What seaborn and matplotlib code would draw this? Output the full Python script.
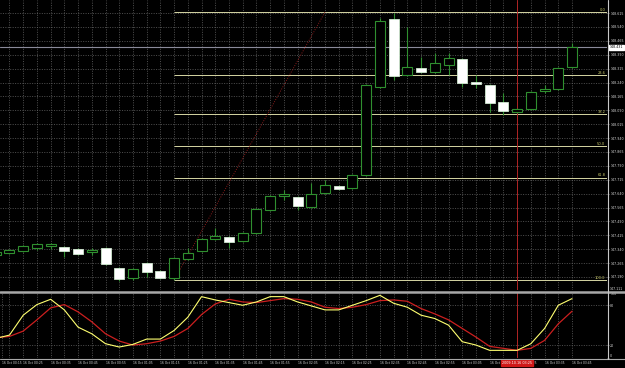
import numpy as np
import pandas as pd
import matplotlib
matplotlib.use("Agg")
import matplotlib.pyplot as plt
import matplotlib.transforms as mtransforms
from matplotlib.lines import Line2D
import seaborn as sns

# ---------------- data ----------------
opens = [147.309, 147.320, 147.330, 147.347, 147.360, 147.352, 147.341, 147.325, 147.347, 147.239,
         147.185, 147.266, 147.222, 147.185, 147.287, 147.330, 147.395, 147.406, 147.384, 147.428,
         147.552, 147.627, 147.622, 147.568, 147.644, 147.681, 147.671, 147.741, 148.216, 148.583,
         148.281, 148.319, 148.297, 148.335, 148.367, 148.243, 148.227, 148.135, 148.081, 148.097,
         148.197, 148.205, 148.324]
highs = [147.330, 147.341, 147.363, 147.374, 147.374, 147.357, 147.347, 147.347, 147.352, 147.244,
         147.239, 147.271, 147.228, 147.298, 147.347, 147.401, 147.455, 147.411, 147.433, 147.563,
         147.633, 147.660, 147.627, 147.698, 147.714, 147.687, 147.746, 148.232, 148.589, 148.616,
         148.540, 148.378, 148.400, 148.400, 148.373, 148.281, 148.232, 148.184, 148.103, 148.194,
         148.227, 148.324, 148.454]
lows = [147.303, 147.314, 147.325, 147.336, 147.341, 147.298, 147.309, 147.309, 147.255, 147.168,
        147.174, 147.190, 147.179, 147.174, 147.282, 147.325, 147.390, 147.347, 147.379, 147.422,
        147.546, 147.606, 147.552, 147.563, 147.638, 147.660, 147.665, 147.735, 148.211, 148.254,
        148.275, 148.292, 148.292, 148.281, 148.216, 148.211, 148.081, 148.065, 148.076, 148.092,
        148.184, 148.200, 148.319]
closes = [147.325, 147.336, 147.357, 147.368, 147.366, 147.330, 147.314, 147.336, 147.260, 147.179,
          147.233, 147.217, 147.185, 147.293, 147.320, 147.395, 147.411, 147.379, 147.428, 147.557,
          147.627, 147.638, 147.573, 147.638, 147.687, 147.665, 147.741, 148.227, 148.572, 148.275,
          148.324, 148.297, 148.346, 148.373, 148.238, 148.232, 148.130, 148.086, 148.097, 148.189,
          148.203, 148.319, 148.431]

stoch_main = [30, 35, 65, 81, 89, 73, 47, 37, 22, 17,
              21, 29, 29, 42, 62, 93, 88, 84, 80, 85,
              93, 93, 85, 79, 73, 73, 80, 87, 95, 83,
              77, 65, 60, 50, 25, 20, 12, 12, 12, 22,
              45, 80, 90]
stoch_signal = [31, 33, 41, 58, 76, 81, 70, 55, 37, 26,
                20, 22, 26, 33, 45, 66, 82, 89, 85, 84,
                87, 90, 89, 85, 77, 75, 77, 81, 87, 88,
                86, 75, 67, 58, 45, 32, 18, 15, 12, 15,
                27, 52, 71]

time_labels = ["16 Oct 00:15", "16 Oct 00:25", "16 Oct 00:35", "16 Oct 00:45", "16 Oct 00:55",
               "16 Oct 01:05", "16 Oct 01:15", "16 Oct 01:25", "16 Oct 01:35", "16 Oct 01:45",
               "16 Oct 01:55", "16 Oct 02:05", "16 Oct 02:15", "16 Oct 02:25", "16 Oct 02:35",
               "16 Oct 02:45", "16 Oct 02:55", "16 Oct 03:05", "16 Oct 03:15", "16 Oct 03:25",
               "16 Oct 03:35", "16 Oct 03:45"]
price_ticks = [147.190, 147.265, 147.340, 147.415, 147.490, 147.565, 147.640, 147.715, 147.790,
               147.865, 147.940, 148.015, 148.090, 148.165, 148.240, 148.315, 148.390, 148.465,
               148.540, 148.615]
fib_levels = [0.0, 23.6, 38.2, 50.0, 61.8, 100.0]
fib_high = 148.621
fib_low = 147.174
fib_start = 13          # candle index where the fibo object starts
fib_end = 24
current_price = 148.431
marked_candle = 38
marked_label = "2009.10.16 03:25"
stoch_levels = [80, 20]

# ---------------- style ----------------
sns.set_theme(style="dark", rc={"axes.facecolor": "black", "figure.facecolor": "black"})
plt.rcParams["font.family"] = ["DejaVu Sans"]

GREEN = "#2f8f2f"
GRID = "#6a6a6a"
FIB = "#d6d6a4"
FIBTXT = "#c8c86a"
TXT = "#d8d8d8"
LBL = 2.3

n = len(opens)
idx = np.arange(n)
df = pd.DataFrame({"i": idx, "open": opens, "high": highs, "low": lows, "close": closes,
                   "main": stoch_main, "signal": stoch_signal})

W, H = 625, 368
fig = plt.figure(figsize=(W / 100, H / 100), dpi=100)
fig.patch.set_facecolor("black")

ax = fig.add_axes([0, (H - 290) / H, 607 / W, 290 / H])
ax2 = fig.add_axes([0, (H - 358.3) / H, 607 / W, 66.3 / H])

xlim = (0.31, 44.55)
for a in (ax, ax2):
    a.set_facecolor("black")
    a.set_xlim(*xlim)
    for s in a.spines.values():
        s.set_visible(False)

ax.set_ylim(147.1198, 148.6858)
ax2.set_ylim(0, 100)

# grids
grid_kw = dict(color=GRID, linewidth=0.5, linestyle=(0, (1.5, 2.0)))
ax.set_xticks(idx[1:])
ax.set_xticklabels([])
ax.tick_params(axis="x", length=0)
ax.set_yticks(price_ticks)
ax.set_yticklabels([f"{p:.3f}" for p in price_ticks])
ax.grid(True, **grid_kw)
ax.yaxis.tick_right()
ax.tick_params(axis="y", length=1.5, width=0.5, color="#a0a0a0", pad=0.8, labelsize=LBL,
               labelcolor=TXT, right=True, left=False)

# fibonacci
bt = mtransforms.blended_transform_factory(ax.transAxes, ax.transData)
for lv in fib_levels:
    price = fib_high - (fib_high - fib_low) * lv / 100.0
    ax.hlines(price, fib_start, xlim[1], color=FIB, linewidth=0.7, zorder=2)
    ax.text(0.997, price + 0.002, f"{lv:.1f}", transform=bt, ha="right", va="bottom",
            color=FIBTXT, fontsize=2.6, zorder=6)
ax.plot([fib_start, fib_end], [fib_low, fib_high], color="#8b1c1c", linewidth=0.7,
        linestyle=(0, (1.0, 1.5)), zorder=2)

# current price line
ax.axhline(current_price, color="#8a8a9a", linewidth=0.8, zorder=1.5)

# candles
bull = df["close"] >= df["open"]
ax.vlines(df["i"], df["low"], df["high"], color=GREEN, linewidth=0.8, zorder=3)
bodies_bottom = np.minimum(df["open"], df["close"])
bodies_h = np.maximum(np.abs(df["close"] - df["open"]), 0.0012)
ax.bar(df["i"][bull], bodies_h[bull], bottom=bodies_bottom[bull], width=0.73,
       color="black", edgecolor=GREEN, linewidth=0.8, zorder=4)
ax.bar(df["i"][~bull], bodies_h[~bull], bottom=bodies_bottom[~bull], width=0.73,
       color="white", edgecolor="#cfe8cf", linewidth=0.6, zorder=4)

# marked vertical line
ax.axvline(marked_candle, color="#b02424", linewidth=0.7, zorder=2.5)
ax2.axvline(marked_candle, color="#b02424", linewidth=0.7, zorder=2.5)

# price labels extra
ax.text(1.004, current_price, f"{current_price:.3f}", transform=bt, ha="left", va="center",
        fontsize=LBL, color="black", clip_on=False, zorder=10,
        bbox=dict(boxstyle="square,pad=0.2", facecolor="white", edgecolor="white"))
ax.text(1.004, 147.125, "147.111", transform=bt, ha="left", va="center",
        fontsize=LBL, color=TXT, clip_on=False)

# ---------------- stochastic ----------------
sns.lineplot(data=df, x="i", y="signal", ax=ax2, color="#cc1f1f", linewidth=0.9, zorder=4)
sns.lineplot(data=df, x="i", y="main", ax=ax2, color="#ffff70", linewidth=0.8, zorder=5)
for lv in stoch_levels:
    ax2.axhline(lv, **grid_kw)
ax2.set_xlabel("")
ax2.set_ylabel("")

tick_pos = [max(float(i), 0.45) for i in range(0, n, 2)]
ax2.set_xticks(tick_pos)
ax2.set_xticklabels(time_labels, fontsize=2.2, color=TXT, ha="left")
ax2.set_xticks(idx[1:], minor=True)
ax2.tick_params(axis="x", which="major", length=1.5, width=0.4, color="#a0a0a0", pad=0.6)
ax2.tick_params(axis="x", which="minor", length=0)
ax2.grid(True, axis="x", which="both", **grid_kw)
ax2.yaxis.tick_right()
ax2.set_yticks([100, 80, 20, 0])
ax2.set_yticklabels(["100", "80", "20", "0"])
ax2.tick_params(axis="y", length=1.5, width=0.5, color="#a0a0a0", pad=0.8, labelsize=LBL,
                labelcolor=TXT, right=True, left=False)
for lab in ax2.get_yticklabels():
    if lab.get_text() == "100":
        lab.set_va("top")
    elif lab.get_text() == "0":
        lab.set_va("bottom")

bt2 = mtransforms.blended_transform_factory(ax2.transData, fig.transFigure)
ax2.text(marked_candle, 1 - 362.5 / H, marked_label, transform=bt2, ha="center", va="center",
         fontsize=2.4, color="white", zorder=12, clip_on=False,
         bbox=dict(boxstyle="square,pad=0.3", facecolor="#d01818", edgecolor="#d01818"))

# frame lines (figure pixel coordinates)
def fy(y):
    return 1 - y / H

fig.add_artist(Line2D([0, 1], [fy(291.5), fy(291.5)], color="#a8a8a8", linewidth=1.8))
fig.add_artist(Line2D([0, 1], [fy(359), fy(359)], color="#a8a8a8", linewidth=0.8))
fig.add_artist(Line2D([607.5 / W, 607.5 / W], [fy(0), fy(359)], color="#c8c8c8", linewidth=0.8))

fig.savefig("out.png", dpi=100, facecolor="black")
